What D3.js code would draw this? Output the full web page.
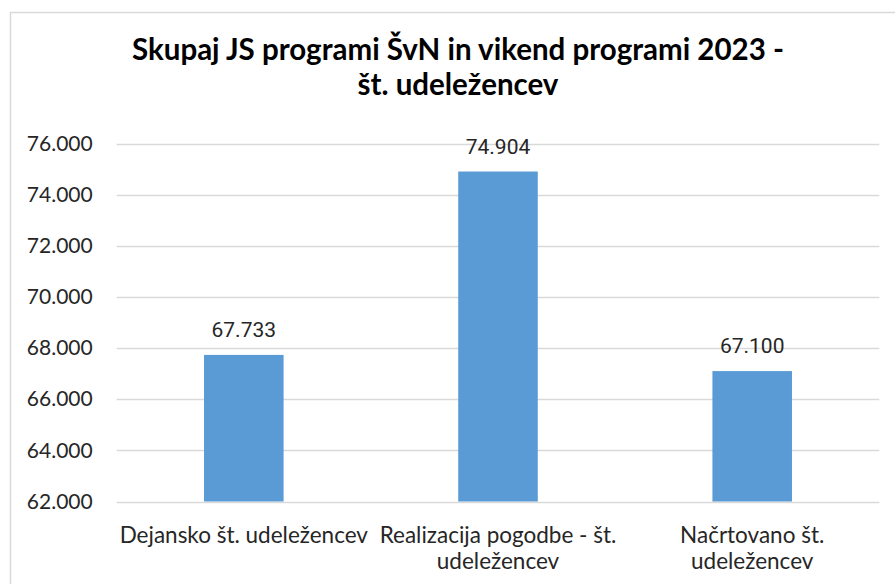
<!DOCTYPE html>
<html>
<head>
<meta charset="utf-8">
<script src="https://cdn.jsdelivr.net/npm/d3@7"></script>
<style>
  body { margin: 0; background: #fff; }
  svg { display: block; }
</style>
</head>
<body>
<script>
// data
const categories = ["Dejansko št. udeležencev", "Realizacija pogodbe - št.\nudeležencev", "Načrtovano št.\nudeležencev"];
const values = [67733, 74904, 67100];
const yTicks = [62000, 64000, 66000, 68000, 70000, 72000, 74000, 76000];
const titleLines = ["Skupaj JS programi ŠvN in vikend programi 2023 -", "št. udeležencev"];

const width = 895, height = 584;
const fmt = d3.formatLocale({decimal: ",", thousands: ".", grouping: [3]}).format(",d");

const svg = d3.select("body").append("svg")
    .attr("width", width)
    .attr("height", height);

svg.append("rect")
    .attr("x", 10.5).attr("y", 12.5)
    .attr("width", 900).attr("height", 600)
    .attr("fill", "white")
    .attr("stroke", "#d9d9d9")
    .attr("stroke-width", 1.5);

x = d3.scaleBand()
    .domain(categories)
    .range([116.7, 879.3])
    .paddingInner(0.687)
    .paddingOuter(0.3435);

y = d3.scaleLinear()
    .domain([62000, 76000])
    .range([501.5, 143.5]);

// gridlines
svg.append("g")
    .selectAll("line")
    .data(yTicks)
    .join("line")
    .attr("x1", 116.7).attr("x2", 879.3)
    .attr("y1", d => Math.round(y(d)) + 0.5)
    .attr("y2", d => Math.round(y(d)) + 0.5)
    .attr("stroke", "#d9d9d9")
    .attr("stroke-width", 1.5);

// y axis labels
const yAxis = svg.append("g")
    .attr("transform", "translate(116.7,0)")
    .call(d3.axisLeft(y).tickValues(yTicks).tickFormat(fmt).tickSize(0).tickPadding(24));
yAxis.select(".domain").remove();
yAxis.selectAll("text")
    .attr("font-family", "Lato, sans-serif")
    .attr("font-size", 21)
    .attr("fill", "#262626");

// bars
svg.append("g")
    .selectAll("rect")
    .data(values)
    .join("rect")
    .attr("x", (d, i) => x(categories[i]))
    .attr("width", x.bandwidth())
    .attr("y", d => y(d))
    .attr("height", d => y(62000) - y(d))
    .attr("fill", "#5b9bd5");

// value labels
svg.append("g")
    .selectAll("text")
    .data(values)
    .join("text")
    .attr("x", (d, i) => x(categories[i]) + x.bandwidth() / 2)
    .attr("y", d => y(d) - 18)
    .attr("text-anchor", "middle")
    .attr("font-family", "Roboto, sans-serif")
    .attr("font-size", 21)
    .attr("fill", "#262626")
    .text(d => fmt(d));

// category labels
const xAxis = svg.append("g")
    .attr("transform", "translate(0,501.5)")
    .call(d3.axisBottom(x).tickSize(0).tickFormat(""));
xAxis.select(".domain").remove();
xAxis.selectAll(".tick text").remove();
xAxis.selectAll(".tick")
    .append("text")
    .attr("text-anchor", "middle")
    .attr("font-family", "Lato, sans-serif")
    .attr("font-size", 22.5)
    .attr("fill", "#262626")
    .selectAll("tspan")
    .data(d => d.split("\n"))
    .join("tspan")
    .attr("x", 0)
    .attr("y", (d, i) => 41 + i * 26)
    .text(d => d);

// title
svg.append("text")
    .attr("text-anchor", "middle")
    .attr("font-family", "Lato, sans-serif")
    .attr("font-weight", "bold")
    .attr("font-size", 29.5)
    .attr("fill", "#000")
    .selectAll("tspan")
    .data(titleLines)
    .join("tspan")
    .attr("x", 458)
    .attr("y", (d, i) => 60 + i * 35)
    .text(d => d);
</script>
</body>
</html>
